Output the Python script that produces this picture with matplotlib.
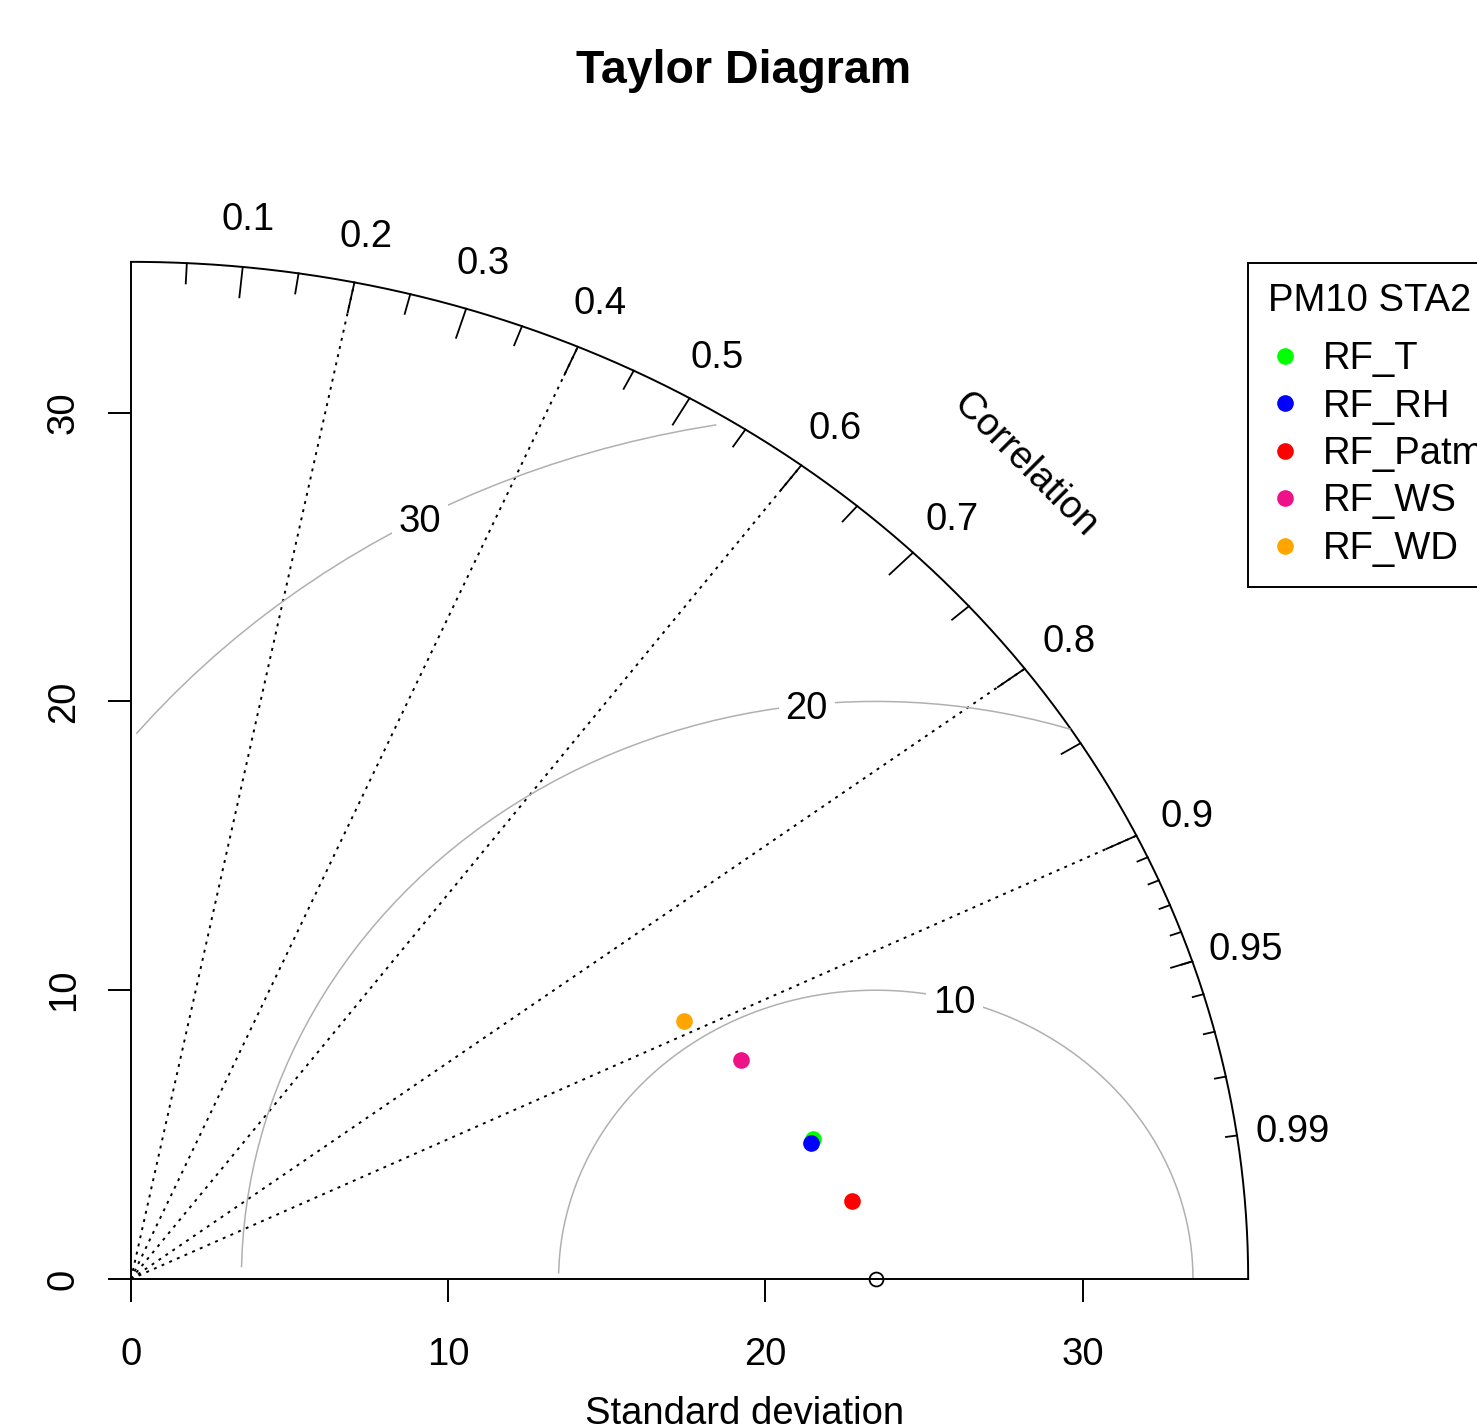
import numpy as np
import matplotlib
matplotlib.use("Agg")
import matplotlib.pyplot as plt
from matplotlib.lines import Line2D

plt.rcParams['font.family'] = ['Liberation Sans', 'DejaVu Sans']

# ---- data ----
ref_sd = 23.48
models = ["RF_T", "RF_RH", "RF_Patm", "RF_WS", "RF_WD"]
model_sd = [22.05, 21.94, 22.89, 20.66, 19.58]
model_cor = [0.9755, 0.9767, 0.9930, 0.9303, 0.8897]
colors = ["#00FF00", "#0000FF", "#FF0000", "#EE1289", "#FFA500"]
gamma_levels = [10, 20, 30]
cor_lines = [0.2, 0.4, 0.6, 0.8, 0.9]
big_ticks = [0.1, 0.2, 0.3, 0.4, 0.5, 0.6, 0.7, 0.8, 0.9]
med_ticks = [0.05, 0.15, 0.25, 0.35, 0.45, 0.55, 0.65, 0.75, 0.85, 0.95]
sml_ticks = [0.91, 0.92, 0.93, 0.94, 0.95, 0.96, 0.97, 0.98, 0.99]
cor_labels = ["0.1", "0.2", "0.3", "0.4", "0.5", "0.6", "0.7", "0.8", "0.9", "0.95", "0.99"]
sd_ticks = [0, 10, 20, 30]
legend_title = "PM10 STA2"

# ---- layout ----
W, H = 1477, 1427
PX_X, PX_Y = 31.72, 28.88
OX, OY = 131, 1279
maxsd = 1.5 * ref_sd
FS = 27.5

fig = plt.figure(figsize=(W / 100, H / 100), dpi=100)
ax = fig.add_axes([OX / W, (H - OY) / H, maxsd * PX_X / W, maxsd * PX_Y / H])
ax.set_xlim(0, maxsd)
ax.set_ylim(0, maxsd)
for s in ["top", "right"]:
    ax.spines[s].set_visible(False)
for s in ["left", "bottom"]:
    ax.spines[s].set_linewidth(1.4)
ax.set_xticks(sd_ticks)
ax.set_yticks(sd_ticks)
ax.set_xticklabels([str(v) for v in sd_ticks])
ax.set_yticklabels([str(v) for v in sd_ticks], rotation=90, va="center")
ax.tick_params(axis="both", direction="out", length=16.5, width=1.4, labelsize=FS)
ax.tick_params(axis="x", pad=25)
ax.tick_params(axis="y", pad=19)

# outer arc
th = np.linspace(0, np.pi / 2, 300)
ax.plot(maxsd * np.cos(th), maxsd * np.sin(th), color="black", lw=1.4, clip_on=False)

# correlation dotted lines
for c in cor_lines:
    ax.plot([0, maxsd * c], [0, maxsd * np.sqrt(1 - c * c)], color="black",
            lw=1.4, linestyle=(0, (1.5, 2.8)), clip_on=False)

# tick marks on arc
def ticks(vals, frac):
    for c in vals:
        a = np.arccos(c)
        ax.plot([maxsd * np.cos(a), frac * maxsd * np.cos(a)],
                [maxsd * np.sin(a), frac * maxsd * np.sin(a)],
                color="black", lw=1.3, clip_on=False)
ticks(big_ticks, 0.97)
ticks(med_ticks, 0.98)
ticks(sml_ticks, 0.99)

# correlation labels
lab_vals = big_ticks + [0.95, 0.99]
for c, lab in zip(lab_vals, cor_labels):
    a = np.arccos(c)
    ax.text(1.05 * maxsd * np.cos(a), 1.05 * maxsd * np.sin(a), lab, fontsize=FS,
            ha="center", va="center_baseline", clip_on=False)
ax.text(0.8 * maxsd, 0.8 * maxsd, "Correlation", fontsize=FS, rotation=-45,
        ha="center", va="center", rotation_mode="anchor", clip_on=False)

# RMS (gamma) contours
labelpos = [45, 57, 70]
for g, lp in zip(gamma_levels, labelpos):
    ang = np.arange(0, np.pi, 0.03)
    xc = np.cos(ang) * g + ref_sd
    yc = np.sin(ang) * g
    keep = (xc >= 0) & (xc * xc + yc * yc <= maxsd * maxsd)
    ax.plot(xc[keep], yc[keep], color="#b0b0b0", lw=1.1, clip_on=False, zorder=2)
    ax.text(xc[lp - 1], yc[lp - 1], str(g), fontsize=FS, ha="center",
            va="center_baseline", zorder=3,
            bbox=dict(facecolor="white", edgecolor="none", pad=5))

# reference point
ax.plot([ref_sd], [0], marker="o", markersize=10, markerfacecolor="none",
        markeredgecolor="black", markeredgewidth=1.3, linestyle="none",
        clip_on=False, zorder=5)

# model points
for sd, c, col in zip(model_sd, model_cor, colors):
    ax.plot([sd * c], [sd * np.sqrt(1 - c * c)], marker="o", markersize=12,
            color=col, markeredgewidth=0, linestyle="none", zorder=6, clip_on=False)

# title and x label
fig.text(744 / W, 1 - 83 / H, "Taylor Diagram", fontsize=33.5, fontweight="bold",
         ha="center", va="baseline")
fig.text(745 / W, 1 - 1424 / H, "Standard deviation", fontsize=FS,
         ha="center", va="baseline")

# legend
handles = [Line2D([], [], marker="o", linestyle="none", markersize=12, color=col,
                  markeredgewidth=0) for col in colors]
leg = fig.legend(handles, models, title=legend_title, loc="upper left",
                 bbox_to_anchor=(1248 / W, 1 - 263 / H), borderaxespad=0,
                 fontsize=FS, title_fontsize=FS, frameon=True, fancybox=False,
                 framealpha=1, edgecolor="black", borderpad=0.53, handlelength=0.9,
                 handletextpad=0.53, labelspacing=0.3, alignment="left")
leg.get_frame().set_linewidth(1.4)
leg._legend_box.sep = leg._legend_box.sep + 7.5

fig.savefig("out.png", dpi=100)
